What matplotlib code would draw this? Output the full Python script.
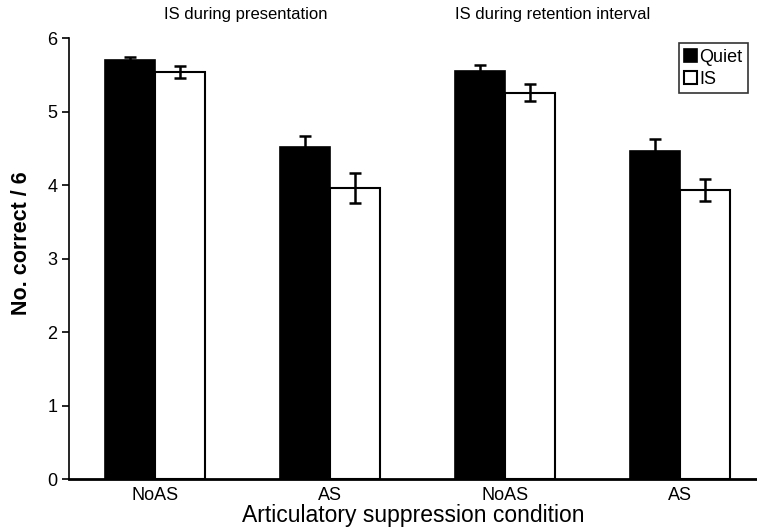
import numpy as np
import matplotlib
matplotlib.use('Agg')
import matplotlib.pyplot as plt

plt.rcParams['font.family'] = ['Liberation Sans', 'DejaVu Sans']

# data
conditions = ['NoAS', 'AS', 'NoAS', 'AS']
quiet_mean = [5.70, 4.52, 5.56, 4.47]
quiet_err = [0.04, 0.15, 0.08, 0.16]
is_mean = [5.54, 3.96, 5.26, 3.93]
is_err = [0.08, 0.20, 0.12, 0.15]
panel_titles = ['IS during presentation', 'IS during retention interval']

x = np.arange(len(conditions))
width = 0.286

fig = plt.figure(figsize=(7.57, 5.28), dpi=100)
ax = fig.add_axes([0.0911, 0.0928, 0.9089, 0.8347])

err_style = dict(ecolor='black', elinewidth=1.8, capsize=4.5, capthick=1.8)
ax.bar(x - width / 2, quiet_mean, width, color='black', edgecolor='black',
       linewidth=1.2, yerr=quiet_err, error_kw=err_style, label='Quiet')
ax.bar(x + width / 2, is_mean, width, color='white', edgecolor='black',
       linewidth=1.5, yerr=is_err, error_kw=err_style, label='IS')

ax.set_xlim(-0.49, 3.44)
ax.set_ylim(0, 6)
ax.set_yticks(range(7))
ax.set_xticks(x)
ax.set_xticklabels(conditions)
ax.tick_params(axis='x', length=0, labelsize=13, pad=6)
ax.tick_params(axis='y', length=5, width=1.2, labelsize=13, direction='out')
ax.spines['top'].set_visible(False)
ax.spines['right'].set_visible(False)
ax.spines['left'].set_linewidth(1.2)
ax.spines['bottom'].set_linewidth(2)

ax.set_xlabel('Articulatory suppression condition', fontsize=16.5, labelpad=0)
ax.set_ylabel('No. correct / 6', fontsize=15.5, fontweight='bold')
ax.yaxis.set_label_coords(-0.053, 0.535)

# panel titles above the two halves
ax.text(0.52, 1.055, panel_titles[0], transform=ax.get_xaxis_transform(),
        ha='center', va='center', fontsize=12)
ax.text(2.27, 1.055, panel_titles[1], transform=ax.get_xaxis_transform(),
        ha='center', va='center', fontsize=12)

leg = ax.legend(loc='upper right', bbox_to_anchor=(0.987, 0.989), fontsize=13,
                frameon=True, fancybox=False, edgecolor='black',
                handlelength=0.7, handleheight=0.7, handletextpad=0.15,
                borderpad=0.3, labelspacing=0.3, borderaxespad=0)
leg.get_frame().set_linewidth(1.2)

fig.savefig('out.png', dpi=100)
